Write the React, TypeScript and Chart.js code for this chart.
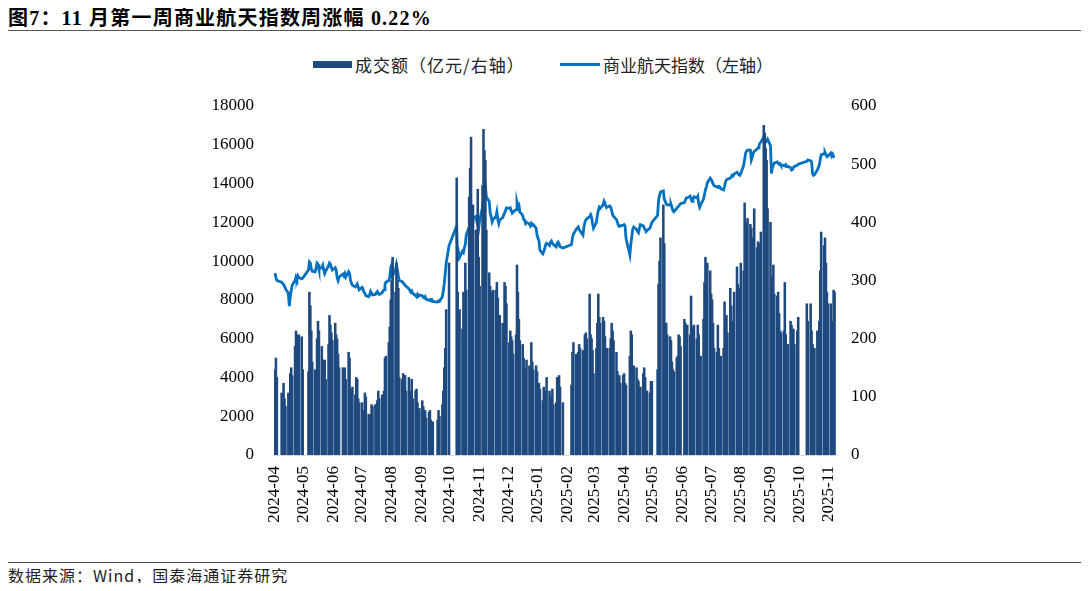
import React, { useEffect, useRef } from "react";
import { Chart, registerables } from "chart.js";

Chart.register(...registerables);

// month tick labels (also the months the data is grouped by)
const MONTHS = [
  "2024-04", "2024-05", "2024-06", "2024-07", "2024-08", "2024-09", "2024-10",
  "2024-11", "2024-12", "2025-01", "2025-02", "2025-03", "2025-04", "2025-05",
  "2025-06", "2025-07", "2025-08", "2025-09", "2025-10", "2025-11",
];

// exchange holidays falling on weekdays
const HOLIDAYS = [
  "2024-04-04", "2024-04-05", "2024-05-01", "2024-05-02", "2024-05-03",
  "2024-06-10", "2024-09-16", "2024-09-17", "2024-10-01", "2024-10-02",
  "2024-10-03", "2024-10-04", "2024-10-07", "2025-01-01", "2025-01-28",
  "2025-01-29", "2025-01-30", "2025-01-31", "2025-02-03", "2025-02-04",
  "2025-04-04", "2025-05-01", "2025-05-02", "2025-05-05", "2025-06-02",
  "2025-10-01", "2025-10-02", "2025-10-03", "2025-10-06", "2025-10-07",
  "2025-10-08",
];

// 成交额（亿元），daily, one array per month
const vol2404 = [4400, 5000, 4000, 3200, 2700, 3700, 2900, 2500, 3200, 3100, 4200, 4500, 4100, 5600, 6400, 6200, 5600, 6200, 6100, 4400];
const vol2405 = [4300, 8400, 7700, 6400, 4800, 4400, 4300, 6000, 6900, 6400, 5600, 4900, 3900, 4900, 3900, 5700, 7200, 6700, 6300, 5900];
const vol2406 = [6800, 6200, 6000, 5200, 4500, 4500, 4000, 4500, 3900, 5300, 5000, 3400, 3300, 3500, 3100, 4000, 3900, 2900, 2700];
const vol2407 = [2700, 2300, 2200, 3200, 3000, 2100, 2100, 2000, 2600, 2500, 2600, 2400, 2800, 3300, 2900, 3100, 2900, 3300, 5000, 5100, 5800, 6600, 8000];
const vol2408 = [9000, 10200, 8400, 9900, 9000, 8600, 4000, 3900, 4200, 4100, 4100, 3300, 4000, 3300, 2900, 3900, 2900, 3300, 3400, 2700, 2200, 2400];
const vol2409 = [2800, 2500, 2100, 2300, 1900, 2200, 2300, 1800, 1700, 1700, 1800, 2300, 2000, 2600, 3300, 4500, 5500, 7500, 9900];
const vol2410 = [14300, 8400, 6100, 7500, 6500, 8400, 7300, 9900, 8500, 13300, 14800, 16400, 10700, 12900, 11600, 9800, 13700, 10200];
const vol2411 = [8700, 13900, 16800, 15700, 15200, 11600, 9400, 8700, 8100, 8400, 8500, 8500, 8900, 8100, 6800, 7200, 6800, 5900, 8900, 8700, 7800];
const vol2412 = [5800, 6400, 6100, 5900, 5200, 6200, 9800, 8400, 7000, 5900, 5700, 5000, 4500, 4200, 4900, 4600, 4300, 5800, 4800, 4400, 4600, 4300];
const vol2501 = [3700, 3400, 2800, 3500, 3000, 3300, 4000, 3300, 3000, 2800, 3400, 2600, 2700, 4000, 3700, 4100, 3500, 2700];
const vol2502 = [3600, 5300, 5800, 5200, 5100, 5300, 5700, 5500, 5400, 4900, 6200, 6300, 6000, 8300, 6200, 6000, 5400, 4200];
const vol2503 = [5500, 6800, 8300, 7100, 6800, 7100, 6900, 6100, 5500, 5500, 5500, 6000, 6800, 6400, 5900, 5300, 4300, 3700, 4100, 3700, 4100];
const vol2504 = [4200, 3700, 3600, 5100, 6400, 6200, 4500, 4600, 4500, 3900, 3800, 3500, 3500, 4200, 4500, 4000, 3300, 3300, 3200, 3800, 3800];
const vol2505 = [4400, 8800, 10000, 11200, 12900, 10900, 6800, 6800, 6200, 6100, 5900, 4800, 4400, 4300, 5000, 5100, 6200, 6100, 5600];
const vol2506 = [7000, 6800, 6000, 6700, 6200, 8200, 6600, 5800, 6700, 6000, 6700, 6200, 4200, 5100, 7000, 8900, 10200, 7000, 9900, 9500];
const vol2507 = [8300, 8000, 6800, 5500, 5300, 6700, 5500, 5000, 5100, 5500, 7900, 7000, 7200, 6300, 8600, 7700, 6900, 6300, 8400, 9700, 8800, 8600, 7300];
const vol2508 = [9900, 9500, 13000, 12000, 11700, 12200, 11900, 11700, 10000, 11200, 12700, 10700, 11000, 10900, 10000, 11500, 17000, 16600, 15800, 15200, 12700];
const vol2509 = [12000, 9200, 7200, 9800, 8300, 8200, 8400, 7300, 6400, 6300, 6400, 8900, 6200, 5700, 5700, 6900, 6700, 6300, 6500, 5700, 6400, 7100];
const vol2510 = [7800, 6900, 7800, 6400, 5700, 5400, 5500, 6400, 5800, 6900, 9500, 11500, 10800, 11200, 9900, 8400, 7800];
const vol2511 = [7800, 6800, 6900, 8500, 8400];

// 商业航天指数, daily, one array per month
const idx2404 = [313, 305, 300, 297, 295, 293, 290, 286, 278, 256, 272, 283, 292, 300, 306, 302, 308, 305, 303, 304];
const idx2405 = [318, 332, 330, 320, 316, 315, 322, 330, 328, 320, 322, 326, 318, 312, 316, 325, 330, 328, 322, 318];
const idx2406 = [322, 318, 305, 300, 306, 311, 308, 312, 306, 315, 312, 300, 295, 292, 289, 291, 294, 289, 284];
const idx2407 = [288, 285, 280, 278, 274, 272, 276, 281, 278, 275, 276, 279, 281, 278, 276, 279, 282, 284, 293, 297, 300, 305, 322];
const idx2408 = [327, 308, 318, 327, 318, 308, 300, 298, 296, 294, 292, 290, 286, 283, 280, 282, 278, 274, 272, 276, 273, 275];
const idx2409 = [274, 271, 270, 272, 268, 266, 267, 265, 267, 264, 263, 265, 264, 272, 282, 295, 312, 330, 360];
const idx2410 = [394, 333, 348, 340, 350, 348, 356, 362, 378, 392, 398, 404, 400, 406, 410, 402, 396, 390];
const idx2411 = [404, 426, 440, 452, 462, 444, 436, 416, 410, 401, 405, 410, 418, 405, 398, 404, 408, 412, 416, 420, 425];
const idx2412 = [424, 425, 420, 416, 418, 422, 435, 428, 430, 418, 412, 405, 404, 398, 400, 397, 394, 398, 395, 396, 390, 378];
const idx2501 = [368, 352, 346, 350, 355, 362, 364, 360, 366, 368, 364, 362, 358, 364, 366, 363, 358, 356];
const idx2502 = [362, 374, 380, 388, 390, 392, 388, 385, 378, 392, 400, 404, 406, 410, 413, 408, 398, 390];
const idx2503 = [400, 412, 420, 426, 424, 430, 436, 432, 428, 426, 428, 426, 420, 413, 410, 405, 400, 395, 393, 394, 395];
const idx2504 = [396, 394, 372, 344, 362, 375, 388, 392, 388, 384, 382, 390, 396, 394, 390, 388, 384, 386, 390, 395, 400];
const idx2505 = [412, 438, 446, 452, 454, 440, 436, 432, 430, 430, 431, 426, 420, 418, 424, 426, 428, 430, 432];
const idx2506 = [434, 438, 442, 442, 445, 440, 436, 440, 444, 442, 445, 432, 426, 430, 440, 448, 456, 461, 468, 476];
const idx2507 = [474, 470, 466, 463, 461, 460, 462, 461, 458, 456, 462, 470, 473, 474, 476, 478, 481, 480, 483, 486, 484, 482, 481];
const idx2508 = [484, 498, 508, 519, 522, 524, 524, 507, 512, 519, 522, 526, 528, 532, 536, 538, 547, 542, 538, 540, 543];
const idx2509 = [532, 484, 494, 498, 502, 504, 502, 500, 501, 498, 498, 497, 499, 496, 496, 494, 490, 491, 494, 496, 498, 500];
const idx2510 = [505, 507, 506, 504, 484, 481, 482, 490, 494, 498, 508, 516, 518, 520, 516, 513, 514];
const idx2511 = [519, 514, 517, 513, 512];

const VOLUME = [
  vol2404, vol2405, vol2406, vol2407, vol2408, vol2409, vol2410, vol2411, vol2412, vol2501,
  vol2502, vol2503, vol2504, vol2505, vol2506, vol2507, vol2508, vol2509, vol2510, vol2511,
];
const INDEX = [
  idx2404, idx2405, idx2406, idx2407, idx2408, idx2409, idx2410, idx2411, idx2412, idx2501,
  idx2502, idx2503, idx2504, idx2505, idx2506, idx2507, idx2508, idx2509, idx2510, idx2511,
];

const DAY = 86400000;
const START = Date.UTC(2024, 3, 1);

const dayOf = (y: number, m: number, d: number) => (Date.UTC(y, m - 1, d) - START) / DAY;

// trading days of a month, as day offsets from 2024-04-01
function tradingDays(month: string) {
  const [y, m] = month.split("-").map(Number);
  const out: number[] = [];
  for (let d = 1; d <= 31; d++) {
    const dt = new Date(Date.UTC(y, m - 1, d));
    if (dt.getUTCMonth() !== m - 1) break;
    const wd = dt.getUTCDay();
    if (wd === 0 || wd === 6) continue;
    if (HOLIDAYS.includes(`${month}-${String(d).padStart(2, "0")}`)) continue;
    out.push(dayOf(y, m, d));
  }
  return out;
}

const volPoints: { x: number; y: number }[] = [];
const idxPoints: { x: number; y: number }[] = [];
MONTHS.forEach((month, i) => {
  const days = tradingDays(month);
  VOLUME[i].forEach((v, j) => {
    if (j < days.length) volPoints.push({ x: days[j], y: v });
  });
  INDEX[i].forEach((v, j) => {
    if (j < days.length) idxPoints.push({ x: days[j], y: v });
  });
});

const monthTicks = MONTHS.map((m) => {
  const [y, mo] = m.split("-").map(Number);
  return dayOf(y, mo, 1);
});

const serif = "'Liberation Serif', 'Times New Roman', serif";
const cjk = "'Noto Sans CJK SC', sans-serif";

const App = () => {
  const canvasRef = useRef<HTMLCanvasElement | null>(null);
  const chartRef = useRef<Chart | null>(null);

  useEffect(() => {
    if (chartRef.current) chartRef.current.destroy();
    const ctx = canvasRef.current!.getContext("2d")!;
    chartRef.current = new Chart(ctx, {
      type: "bar",
      data: {
        datasets: [
          {
            type: "bar",
            label: "成交额（亿元/右轴）",
            data: volPoints,
            yAxisID: "y",
            backgroundColor: "#1f4a7f",
            barThickness: 1.9,
            order: 0,
          },
          {
            type: "line",
            label: "商业航天指数（左轴）",
            data: idxPoints,
            yAxisID: "y1",
            borderColor: "#0070c0",
            borderWidth: 2.8,
            pointRadius: 0,
            tension: 0,
            order: 1,
          },
        ] as any,
      },
      options: {
        responsive: false,
        animation: false,
        events: [],
        layout: { padding: { top: 70, left: 0, right: 0, bottom: 0 } },
        plugins: {
          legend: { display: false },
          tooltip: { enabled: false },
        },
        scales: {
          x: {
            type: "linear",
            offset: false,
            min: -1,
            max: 586.5,
            grid: { display: false, drawTicks: false },
            border: { display: true, color: "#d9d9d9", width: 1 },
            afterBuildTicks: (scale: any) => {
              scale.ticks = monthTicks.map((v) => ({ value: v }));
            },
            afterFit: (scale: any) => {
              scale.height = 101;
            },
            ticks: {
              autoSkip: false,
              minRotation: 90,
              maxRotation: 90,
              padding: 11,
              color: "#000",
              font: { family: serif, size: 17 },
              callback: (_v: any, i: number) => MONTHS[i],
            },
          },
          y: {
            position: "left",
            min: 0,
            max: 18000,
            grid: { display: false, drawTicks: false },
            border: { display: false },
            afterFit: (scale: any) => {
              scale.width = 266;
            },
            ticks: {
              stepSize: 2000,
              padding: 20,
              color: "#000",
              font: { family: serif, size: 17 },
              callback: (v: any) => String(v),
            },
          },
          y1: {
            position: "right",
            min: 0,
            max: 600,
            grid: { display: false, drawTicks: false },
            border: { display: false },
            afterFit: (scale: any) => {
              scale.width = 245;
            },
            ticks: {
              stepSize: 100,
              padding: 15,
              color: "#000",
              font: { family: serif, size: 17 },
              callback: (v: any) => String(v),
            },
          },
        },
      },
    });

    return () => {
      if (chartRef.current) {
        chartRef.current.destroy();
        chartRef.current = null;
      }
    };
  }, []);

  return (
    <div style={{ position: "relative", width: 1073, height: 575 }}>
      <div
        style={{
          position: "absolute",
          left: 0,
          top: 0,
          fontFamily: `${serif.split(",")[0]}, ${cjk}`,
          fontWeight: 700,
          fontSize: 20,
          lineHeight: "20px",
          letterSpacing: 1.2,
          color: "#000",
          whiteSpace: "nowrap",
        }}
      >
        图7：11 月第一周商业航天指数周涨幅 0.22%
      </div>
      <div style={{ position: "absolute", left: 0, top: 22, width: 1073, borderTop: "1.5px solid #555" }} />

      <div style={{ position: "absolute", left: 305, top: 53, width: 39, height: 7, background: "#1f4a7f" }} />
      <div
        style={{
          position: "absolute",
          left: 347,
          top: 47,
          fontFamily: cjk,
          fontSize: 17,
          lineHeight: "20px",
          letterSpacing: 1,
          color: "#222",
          whiteSpace: "nowrap",
        }}
      >
        成交额（亿元/右轴）
      </div>
      <div style={{ position: "absolute", left: 552, top: 55, width: 40, height: 3, background: "#0070c0" }} />
      <div
        style={{
          position: "absolute",
          left: 595,
          top: 47,
          fontFamily: cjk,
          fontSize: 17,
          lineHeight: "20px",
          letterSpacing: 0,
          color: "#222",
          whiteSpace: "nowrap",
        }}
      >
        商业航天指数（左轴）
      </div>

      <canvas
        ref={canvasRef}
        width={1073}
        height={520}
        style={{ position: "absolute", left: 0, top: 28, width: 1073, height: 520 }}
      />

      <div style={{ position: "absolute", left: 0, top: 554, width: 1073, borderTop: "1px solid #444" }} />
      <div
        style={{
          position: "absolute",
          left: 0,
          top: 558,
          fontFamily: cjk,
          fontSize: 16,
          lineHeight: "18px",
          letterSpacing: 1,
          color: "#222",
          whiteSpace: "nowrap",
        }}
      >
        数据来源：Wind，国泰海通证券研究
      </div>
    </div>
  );
};

export default App;
